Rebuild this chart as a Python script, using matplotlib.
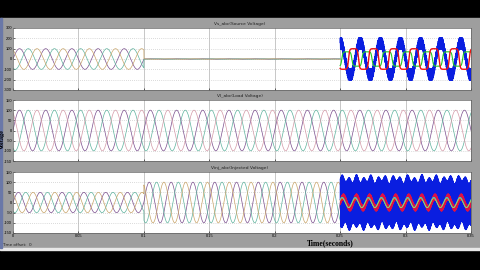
import numpy as np
import matplotlib
matplotlib.use('Agg')
import matplotlib.pyplot as plt
from matplotlib.patches import Rectangle

plt.rcParams['axes.unicode_minus'] = False

# segment boundaries of the simulation (s)
seg_edges = [0.0, 0.1, 0.25, 0.35]
f_grid = 50.0          # grid frequency (Hz)
f_dist = 65.0          # distorted source frequency in last segment
f_ripple = 100.0       # injected ripple frequency
f_sw = 2500.0          # switching frequency of the chopped signals

# amplitudes per segment
vs_amp = [100, 2, 0]            # source voltage (sine part)
vs_blue_amp = 150               # distorted source, blue channel
vs_blue_band = 55
vs_step_amp = 100               # red / green stepped phases
vl_amp = [100, 100, 100]        # load voltage
vinj_amp = [50, 100, 0]         # injected voltage
vinj_blue_env = 115
vinj_blue_wave = 15
vinj_red_amp = 28
vinj_red_band = 15
vinj_cyan_amp = 25

titles = ['Vs_abc(Source Voltage)', 'Vl_abc(Load Voltage)', 'Vinj_abc(Injected Voltage)']
yticks = [[-300, -200, -100, 0, 100, 200, 300],
          [-150, -100, -50, 0, 50, 100, 150],
          [-150, -100, -50, 0, 50, 100, 150]]
xticks = [0, 0.05, 0.1, 0.15, 0.2, 0.25, 0.3, 0.35]
xtick_labels = ['0', '0.05', '0.1', '0.15', '0.2', '0.25', '0.3', '0.35']

phase_cols = ['#7b4f8e', '#5fb39e', '#c9a56a']
load_cols = ['#7b4f8e', '#5fb39e', '#d49aa8']

t = np.linspace(0, 0.35, 35001)
shifts = [0, -2 * np.pi / 3, 2 * np.pi / 3]


def three_phase(amps, f, t, shift):
  '''
  Piecewise sine of one phase, left empty where the amplitude is 0.
  '''
  out = np.full(t.shape, np.nan)
  for i, a in enumerate(amps):
    m = (t >= seg_edges[i]) & (t <= seg_edges[i + 1])
    if a:
      out[m] = a * np.sin(2 * np.pi * f * t[m] + shift)
  return out


last = t >= seg_edges[2]
tl = t[last]

fig = plt.figure(figsize=(4.8, 2.7), dpi=100, facecolor='black')
fig.patches.append(Rectangle((0, 1 - 248 / 270), 1, 230 / 270,
                             transform=fig.transFigure, color='#9e9e9e', zorder=-5))
fig.patches.append(Rectangle((0, 1 - 250 / 270), 1, 2 / 270,
                             transform=fig.transFigure, color='#e8e8e8', zorder=-5))
fig.patches.append(Rectangle((0, 1 - 248 / 270), 1.5 / 480, 230 / 270,
                             transform=fig.transFigure, color='#6a78a8', zorder=-4))

axes_y = [(28, 90), (100, 161), (172, 233)]
axs = []
for k, (y0, y1) in enumerate(axes_y):
  ax = fig.add_axes([13 / 480, 1 - y1 / 270, 458 / 480, (y1 - y0) / 270])
  ax.set_facecolor('white')
  ax.set_xlim(0, 0.35)
  ax.set_ylim(yticks[k][0], yticks[k][-1])
  ax.set_yticks(yticks[k])
  ax.set_yticklabels([str(v) for v in yticks[k]], fontsize=2.9,
                     family='Liberation Sans')
  ax.set_xticks(xticks)
  if k == 2:
    ax.set_xticklabels(xtick_labels, fontsize=2.9, family='Liberation Sans')
  else:
    ax.set_xticklabels([])
  ax.tick_params(direction='in', length=1.5, width=0.4, pad=0.6)
  for x in xticks[1:-1]:
    ax.axvline(x, color='#b0b0b0', lw=0.5, zorder=0)
  for y in yticks[k][1:-1]:
    ax.axhline(y, color='#b8b8b8', lw=0.5, ls=(0, (1, 2)), zorder=0)
  for s in ax.spines.values():
    s.set_color('#606060')
    s.set_linewidth(0.5)
  fig.text(0.5, 1 - (y0 - 4) / 270, titles[k], ha='center', va='center',
           fontsize=3.2, color='#202020')
  axs.append(ax)

# panel 1: source voltage
for c, sh in zip(phase_cols, shifts):
  axs[0].plot(t, three_phase(vs_amp, f_grid, t, sh), color=c, lw=0.5)
blue = vs_blue_amp * np.clip(1.15 * np.sin(2 * np.pi * f_dist * tl), -1, 1) \
    + vs_blue_band * np.sin(2 * np.pi * f_sw * tl)
axs[0].plot(tl, blue, color='#0a1ee0', lw=0.8)
green = vs_step_amp * np.tanh(3 * np.sin(2 * np.pi * f_dist * tl - 2 * np.pi / 3)) * 0.7
red = vs_step_amp * np.tanh(3 * np.sin(2 * np.pi * f_dist * tl + 2 * np.pi / 3))
axs[0].plot(tl, green, color='#22cc22', lw=0.8)
axs[0].plot(tl, red, color='#ee1111', lw=1.0)

# panel 2: load voltage
for c, sh in zip(load_cols, shifts):
  axs[1].plot(t, three_phase(vl_amp, f_grid, t, sh), color=c, lw=0.5)

# panel 3: injected voltage
for c, sh in zip(phase_cols, shifts):
  axs[2].plot(t, three_phase(vinj_amp, f_grid * 1.2, t, sh), color=c, lw=0.5)
env = vinj_blue_env + vinj_blue_wave * np.sin(2 * np.pi * 180 * tl)
blue3 = env * np.sin(2 * np.pi * f_sw * tl) + 8 * np.sin(2 * np.pi * f_ripple * tl)
axs[2].plot(tl, blue3, color='#0a1ee0', lw=0.6)
red3 = vinj_red_amp * np.sin(2 * np.pi * f_ripple * tl) \
    + vinj_red_band * np.sin(2 * np.pi * f_sw * tl + 1)
axs[2].plot(tl, red3, color='#dd1144', lw=0.6)
cyan3 = vinj_cyan_amp * np.sin(2 * np.pi * f_ripple * tl + 0.6)
axs[2].plot(tl, cyan3, color='#22dddd', lw=0.7)
axs[2].plot(tl, cyan3 * 0.9 - 3, color='#d8d820', lw=0.4)

fig.text(2.3 / 480, 1 - 139 / 270, 'Voltage', rotation=90, ha='center', va='center',
         fontsize=4.5, fontweight='bold', family='Liberation Serif')
fig.text(307 / 480, 1 - 243 / 270, 'Time(seconds)', ha='left', va='center',
         fontsize=5.5, fontweight='bold', family='Liberation Serif')
fig.text(2 / 480, 1 - 244.5 / 270, 'Time offset:  0', ha='left', va='center',
         fontsize=3.0, color='#202020')

fig.savefig('out.png', dpi=100, facecolor=fig.get_facecolor())
